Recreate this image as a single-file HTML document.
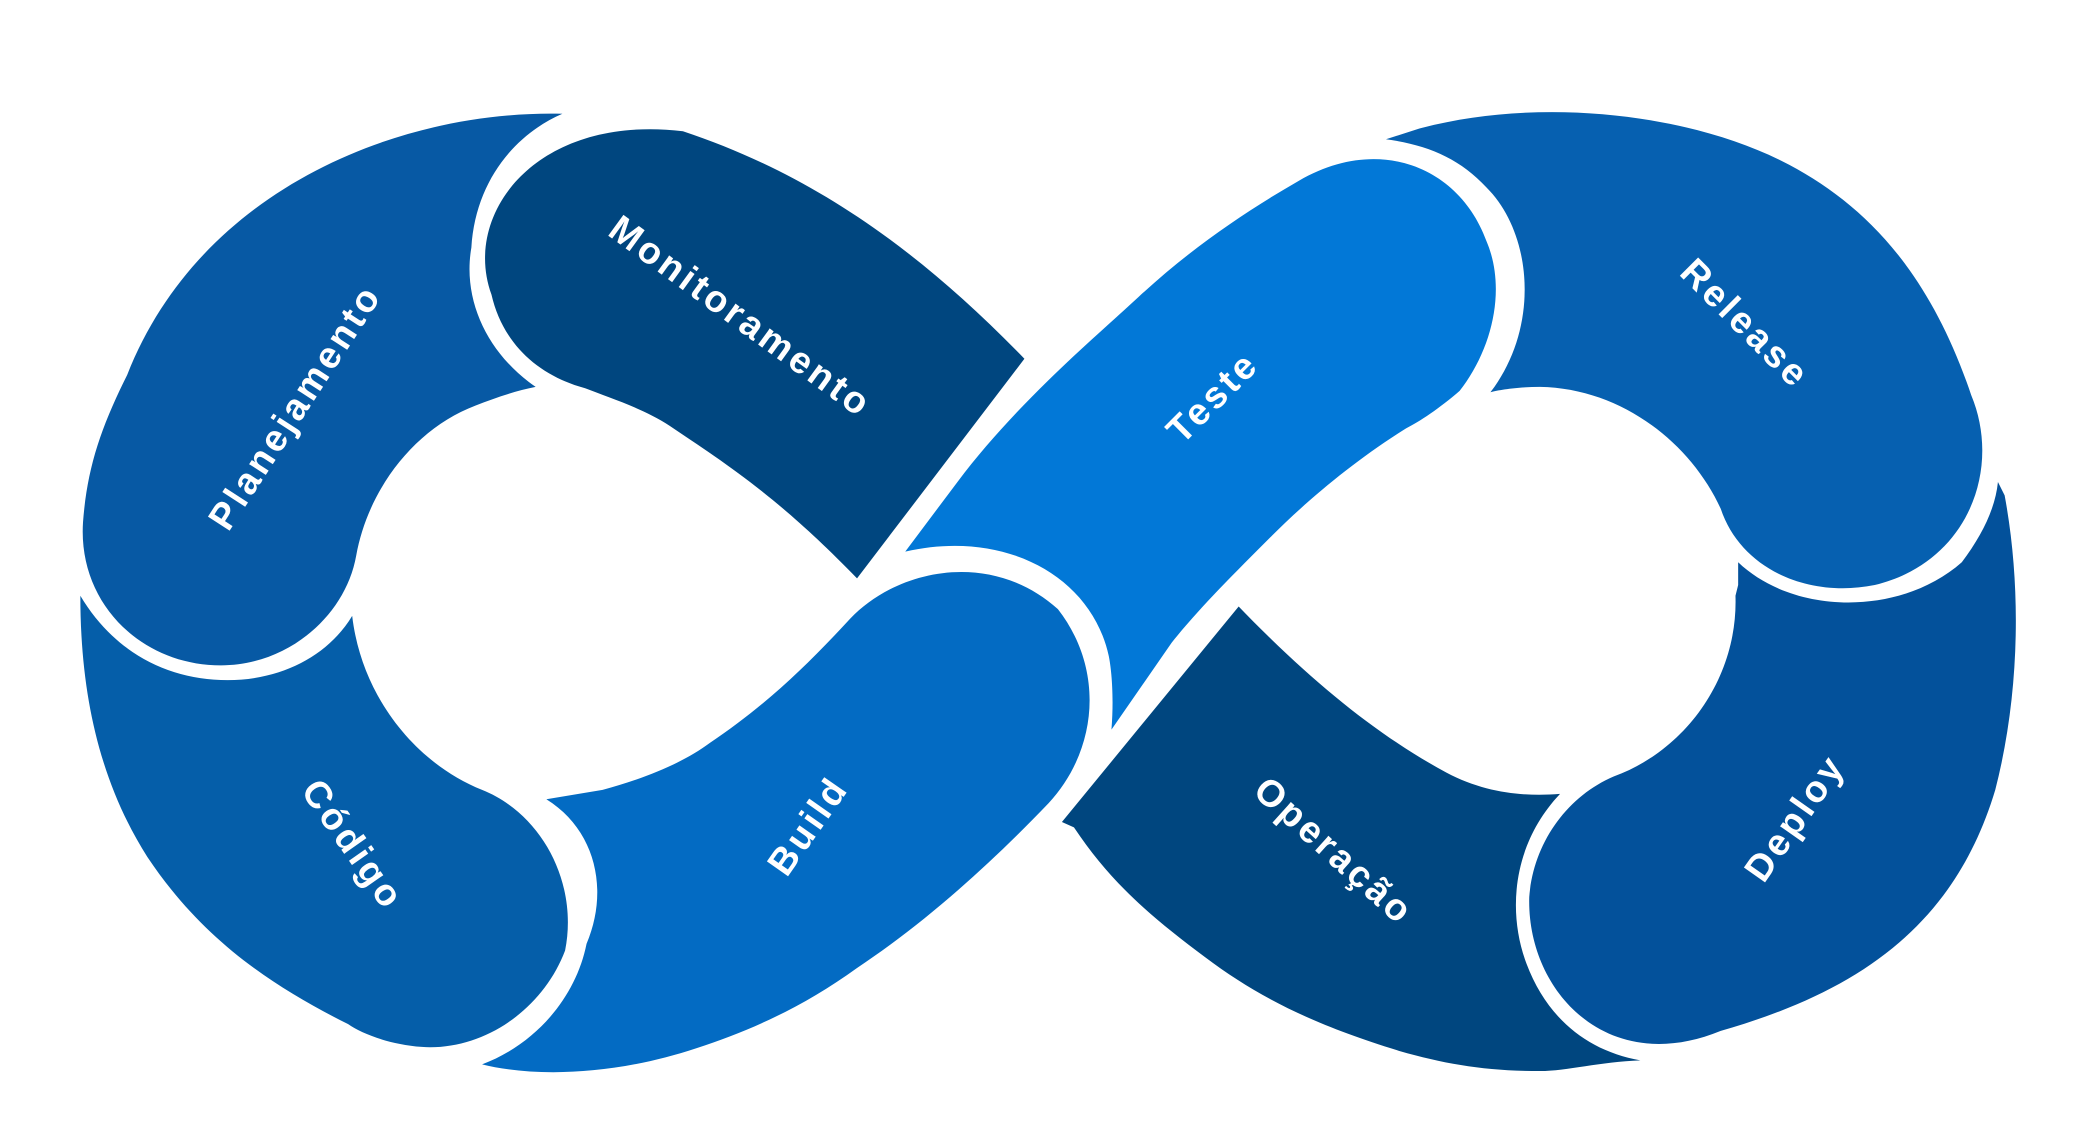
<!DOCTYPE html>
<html><head><meta charset="utf-8"><style>
html,body{margin:0;padding:0;background:#fff;}
svg{display:block;}
text{font-family:"Liberation Sans",sans-serif;font-weight:bold;fill:#fff;font-size:28px;letter-spacing:2.5px;text-anchor:middle;dominant-baseline:middle;}
</style></head><body>
<svg width="2089" height="1146" viewBox="0 0 1560 856" preserveAspectRatio="none" xmlns="http://www.w3.org/2000/svg">
<rect width="1560" height="856" fill="#fff"/>
<path fill="#0759a4" d="M420,85 C300,82 150,140 95,280 C75,320 65,350 62,390 C58,450 105,497 165,497 C215,497 258,460 266,415 C275,365 310,320 355,303 C370,297 385,292 400,289 C365,265 345,225 352,185 C355,135 385,100 420,85 Z"/>
<path fill="#00467f" d="M510,98 C600,128 680,180 765,268 L640,432 C580,370 540,345 500,318 C480,305 455,297 437,290 C400,280 375,255 367,220 C345,160 400,85 510,98 Z"/>
<path fill="#0278d7" d="M676,412 L715,360 C760,300 820,250 850,222 C890,185 930,158 970,135 C1030,100 1090,125 1110,180 C1125,215 1115,260 1090,292 C1075,305 1060,315 1050,320 C1010,345 975,375 950,400 C920,430 895,455 875,480 L830,545 C832,520 830,500 828,490 C815,430 750,395 676,412 Z"/>
<path fill="#0660b0" d="M1035,104 L1060,96 C1150,72 1260,85 1330,120 C1390,150 1440,200 1472,295 C1495,350 1470,420 1400,437 C1350,447 1300,425 1285,380 C1262,330 1210,290 1150,289 C1135,289 1120,291 1113,293 C1150,245 1145,175 1110,140 C1090,118 1065,108 1035,104 Z"/>
<path fill="#03519b" d="M1492,360 L1497,370 C1510,440 1508,520 1490,590 C1460,690 1390,740 1285,770 C1200,805 1140,740 1142,670 C1145,630 1170,595 1205,580 C1260,560 1298,505 1296,445 L1298,437 L1298,420 C1340,460 1420,460 1465,420 C1480,400 1490,380 1492,360 Z"/>
<path fill="#00467f" d="M925,453 C980,510 1030,550 1080,577 C1110,593 1140,595 1165,593 C1130,630 1125,680 1140,720 C1155,760 1185,785 1225,792 C1195,793 1170,800 1150,800 C1110,800 1080,795 1045,785 C980,765 940,745 900,715 C860,685 830,660 802,618 L793,614 Z"/>
<path fill="#036bc3" d="M408,597 L450,590 C480,582 510,570 530,555 C570,528 600,500 635,462 C670,425 740,410 790,455 C825,500 820,560 783,600 C740,645 690,690 640,723 C600,752 560,770 520,783 C460,803 400,805 360,795 C400,780 430,745 438,705 C455,665 445,620 408,597 Z"/>
<path fill="#055ea9" d="M60,445 C85,487 125,508 170,508 C210,508 245,490 263,460 C270,520 310,570 360,590 C405,608 432,660 422,710 C405,755 360,785 315,782 C290,780 270,772 260,765 C200,735 150,700 110,640 C75,585 60,520 60,445 Z"/>

<text transform="translate(222,305) rotate(-57)">Planejamento</text>
<text transform="translate(552,238) rotate(36)">Monitoramento</text>
<text transform="translate(907,298) rotate(-45)">Teste</text>
<text transform="translate(1302,243) rotate(45)">Release</text>
<text transform="translate(262,632) rotate(55)">Código</text>
<text transform="translate(605,618) rotate(-55)">Build</text>
<text transform="translate(995,637) rotate(42)">Operação</text>
<text transform="translate(1342,612) rotate(-55)">Deploy</text>
</svg>
</body></html>
